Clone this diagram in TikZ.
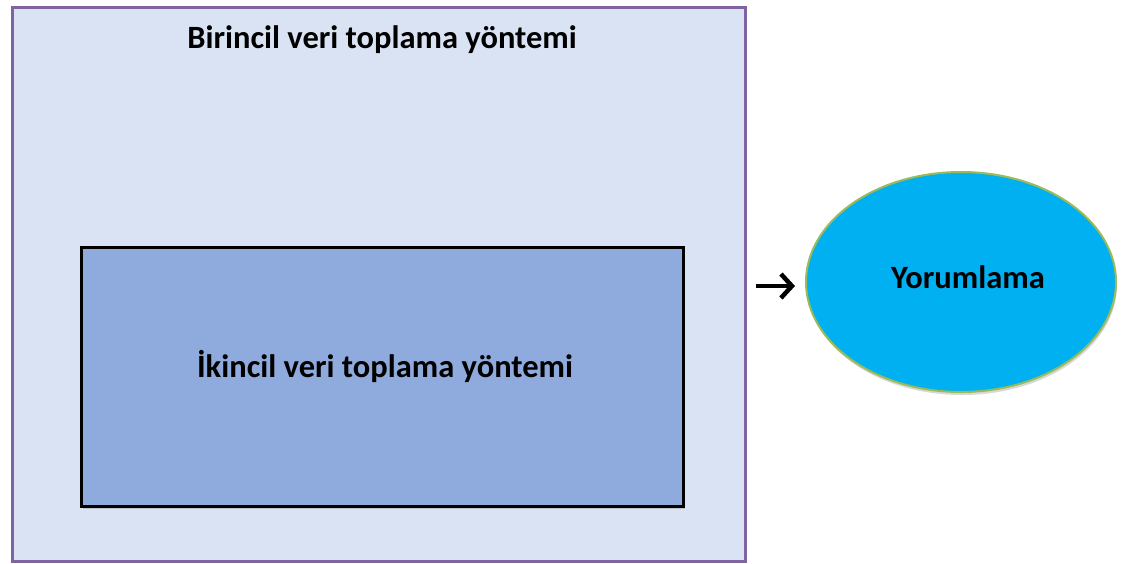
\documentclass[tikz,border=0pt]{standalone}
\usepackage{fontspec}
\setmainfont{Carlito}
\usetikzlibrary{shapes.geometric,shadows,arrows.meta}
\definecolor{outerfill}{HTML}{DAE3F3}
\definecolor{outerline}{HTML}{8064A2}
\definecolor{innerfill}{HTML}{8FAADC}
\definecolor{ellfill}{HTML}{00B0F0}
\definecolor{ellline}{HTML}{9BBB59}
\tikzset{
  outerbox/.style={draw=outerline, line width=3pt, fill=outerfill, drop shadow={shadow xshift=-1.5pt, shadow yshift=-1.5pt, opacity=0.25}},
  innerbox/.style={draw=black, line width=2.5pt, fill=innerfill, drop shadow={shadow xshift=2pt, shadow yshift=-3pt, opacity=0.35}},
  ellnode/.style={ellipse, draw=ellline, line width=2pt, fill=ellfill, drop shadow={shadow xshift=1pt, shadow yshift=-3pt, opacity=0.3}},
  lbl/.style={font=\fontsize{32.5}{38}\selectfont\bfseries, text=black},
  conn/.style={-{Straight Barb[length=11pt,width=24pt,line width=4.5pt]}, line width=4.5pt},
}
\begin{document}
\begin{tikzpicture}[x=1pt,y=-1pt]
\useasboundingbox (0,0) rectangle (1140,563);
\fill[white] (0,0) rectangle (1140,563);
\node[outerbox, minimum width=733pt, minimum height=554pt, anchor=north west, inner sep=0pt] (outer) at (11,6) {};
\node[lbl] (t1) at (382,40) {Birincil veri toplama yöntemi};
\node[innerbox, minimum width=602pt, minimum height=259pt, anchor=north west, inner sep=0pt] (inner) at (80,246) {};
\node[lbl] (t2) at (385,366) {İkincil veri toplama yöntemi};
\node[ellnode, minimum width=310pt, minimum height=220pt, inner sep=0pt] (yor) at (961,282) {};
\node[lbl] (t3) at (968,277) {Yorumlama};
\coordinate (a1) at (756,286);
\coordinate (a2) at (795,286);
\draw[conn] (a1) -- (a2);
\end{tikzpicture}
\end{document}
